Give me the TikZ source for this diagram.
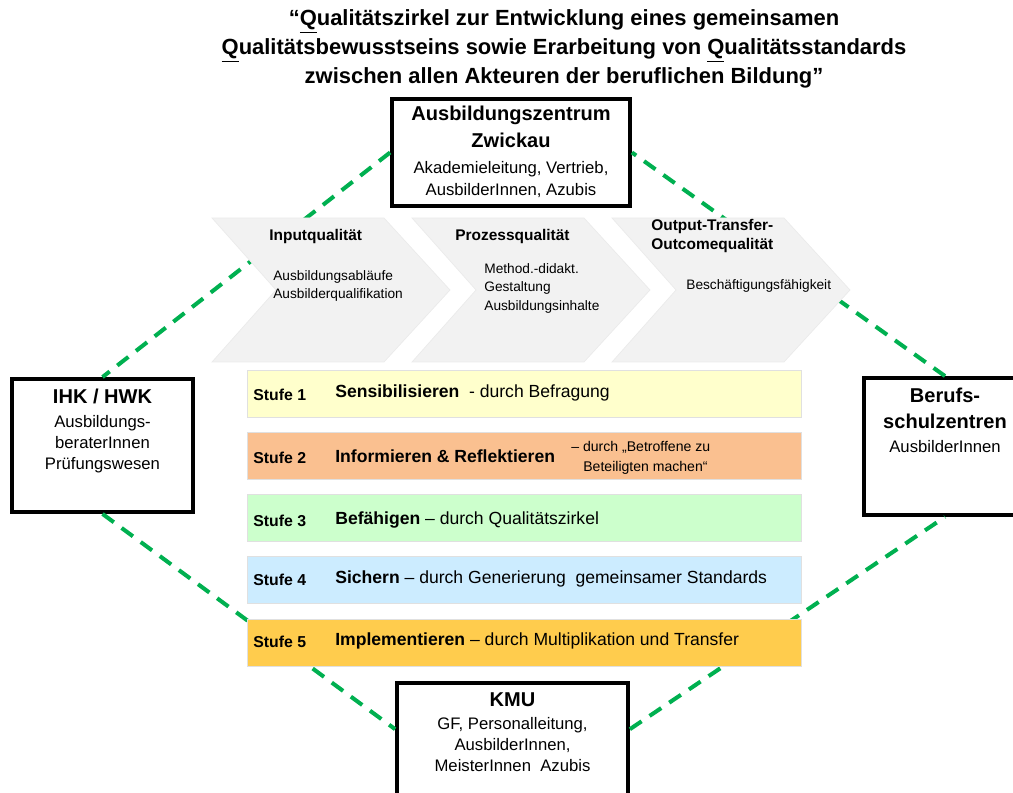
\documentclass[tikz,border=0pt]{standalone}
\usepackage{fontspec}
\setmainfont{Liberation Sans}
\usetikzlibrary{positioning}

\definecolor{netzgruen}{RGB}{0,176,80}
\definecolor{pfeilgrau}{RGB}{242,242,242}
\definecolor{stufeeins}{RGB}{255,255,204}
\definecolor{stufezwei}{RGB}{250,192,144}
\definecolor{stufedrei}{RGB}{204,255,204}
\definecolor{stufevier}{RGB}{204,236,255}
\definecolor{stufefuenf}{RGB}{255,204,77}

\newcommand{\kopf}{\fontsize{11.4}{12}\selectfont\bfseries}

\begin{document}
\begin{tikzpicture}[x=0.02cm, y=-0.02cm,
		titel/.style={align=center, inner sep=0pt,
			font=\fontsize{12.5}{16.5}\selectfont\bfseries},
		akteur/.style={draw=black, line width=2.2pt, fill=white,
			inner sep=0pt},
		akttext/.style={align=center, inner sep=0pt,
			font=\fontsize{9.5}{12}\selectfont},
		netz/.style={draw=netzgruen, line width=2.3pt,
			dash pattern=on 8pt off 5.5pt},
		chevron/.style={fill=pfeilgrau, draw=black!8, line width=0.4pt},
		chevkopf/.style={inner sep=0pt, align=left,
			font=\fontsize{8.8}{11.3}\selectfont\bfseries},
		chevtext/.style={anchor=north west, align=left, inner sep=0pt,
			font=\fontsize{7.8}{10.5}\selectfont},
		stufe/.style={draw=black!12, line width=0.5pt, inner sep=0pt,
			minimum width=11.08cm, minimum height=0.94cm},
		stufenr/.style={anchor=base west, inner sep=0pt,
			font=\fontsize{9}{11}\selectfont\bfseries},
		stufetext/.style={anchor=base west, inner sep=0pt,
			font=\fontsize{10}{12}\selectfont},
		stufezusatz/.style={anchor=base west, inner sep=0pt,
			font=\fontsize{8}{10}\selectfont}]
	
	%% 1 Einheit = 1 px, y nach unten
	\clip (0,0) rectangle (1013,793);
	
	%% --- Leitsatz oben ---
	\node[titel] (titel) at (564,49)
		{“\underline{Q}ualitätszirkel zur Entwicklung eines gemeinsamen\\
		 \underline{Q}ualitätsbewusstseins sowie Erarbeitung von \underline{Q}ualitätsstandards\\
		 zwischen allen Akteuren der beruflichen Bildung”};
	
	%% --- die vier Akteure (Rauten-Ecken) ---
	\node[akteur, minimum width=4.76cm, minimum height=2.14cm] (azw) at (511,152.5) {};
	\node[akteur, minimum width=3.62cm, minimum height=2.66cm] (ihk) at (102.5,445.5) {};
	\node[akteur, minimum width=3.24cm, minimum height=2.74cm] (bsz) at (945,446.5) {};
	\node[akteur, minimum width=4.62cm, minimum height=2.34cm] (kmu) at (512.5,741.5) {};
	
	\node[akttext, below=5pt of azw.north] (azwtext)
		{\kopf Ausbildungszentrum\\[3.3pt]
		 \kopf Zwickau\\[2.7pt]
		 Akademieleitung, Vertrieb,\\[0.5pt]
		 AusbilderInnen, Azubis};
	\node[akttext, below=6.5pt of ihk.north] (ihktext)
		{\kopf IHK / HWK\\[1.6pt]
		 Ausbildungs-\\
		 beraterInnen\\
		 Prüfungswesen};
	\node[akttext, below=6.5pt of bsz.north] (bsztext)
		{\kopf Berufs-\\[2.7pt]
		 \kopf schulzentren\\[1.6pt]
		 AusbilderInnen};
	\node[akttext, below=6.5pt of kmu.north] (kmutext)
		{\kopf KMU\\[1pt]
		 GF, Personalleitung,\\
		 AusbilderInnen,\\
		 MeisterInnen~ Azubis};
	
	%% --- gestrichelte Raute (liegt hinter Pfeilen und Stufen) ---
	\draw[netz] (azw.west) -- (ihk.north);
	\draw[netz] (ihk.south) -- (kmu.174);
	\draw[netz] (kmu.6) -- (bsz.south);
	\draw[netz] (bsz.north) -- (azw.east);
	
	%% --- drei Prozesspfeile ---
	\foreach \i in {0,1,2} {
		\pgfmathsetmacro{\xL}{212+200*\i}
		\draw[chevron] (\xL,218) -- ++(172,0) -- ++(66,72) -- ++(-66,72)
			-- ++(-172,0) -- ++(64,-72) -- cycle;
	}
	
	\node[chevkopf, anchor=base west] (inputkopf) at (269,240.5) {Inputqualität};
	\node[chevtext] (inputtext) at (273,270)
		{Ausbildungsabläufe\\ Ausbilderqualifikation};
	
	\node[chevkopf, anchor=base west] (prozkopf) at (455,240.5) {Prozessqualität};
	\node[chevtext] (proztext) at (484,263)
		{Method.-didakt.\\ Gestaltung\\ Ausbildungsinhalte};
	
	\node[chevkopf, anchor=north west] (outkopf) at (651,218.5)
		{Output-Transfer-\\ Outcomequalität};
	\node[chevtext] (outtext) at (686,279) {Beschäftigungsfähigkeit};
	
	%% --- Stufen 1 bis 5 ---
	\node[stufe, fill=stufeeins] (s1) at (524,394) {};
	\node[stufenr] (s1nr) at (253,400.5) {Stufe 1};
	\node[stufetext] (s1text) at (335,397.3) {\textbf{Sensibilisieren}~ - durch Befragung};
	
	\node[stufe, fill=stufezwei] (s2) at (524,456) {};
	\node[stufenr] (s2nr) at (253,463.5) {Stufe 2};
	\node[stufetext] (s2text) at (335,462.3) {\textbf{Informieren \& Reflektieren}};
	\node[stufezusatz] (s2zusatz) at (571,451) {– durch „Betroffene zu};
	\node[stufezusatz] (s2zusatzb) at (583,471) {Beteiligten machen“};
	
	\node[stufe, fill=stufedrei] (s3) at (524,517.5) {};
	\node[stufenr] (s3nr) at (253,526.5) {Stufe 3};
	\node[stufetext] (s3text) at (335,524.3) {\textbf{Befähigen} – durch Qualitätszirkel};
	
	\node[stufe, fill=stufevier] (s4) at (524,580) {};
	\node[stufenr] (s4nr) at (253,585.5) {Stufe 4};
	\node[stufetext] (s4text) at (335,583.3) {\textbf{Sichern} – durch Generierung~ gemeinsamer Standards};
	
	\node[stufe, fill=stufefuenf] (s5) at (524,643) {};
	\node[stufenr] (s5nr) at (253,647.5) {Stufe 5};
	\node[stufetext] (s5text) at (335,645.3) {\textbf{Implementieren} – durch Multiplikation und Transfer};
	
\end{tikzpicture}
\end{document}
